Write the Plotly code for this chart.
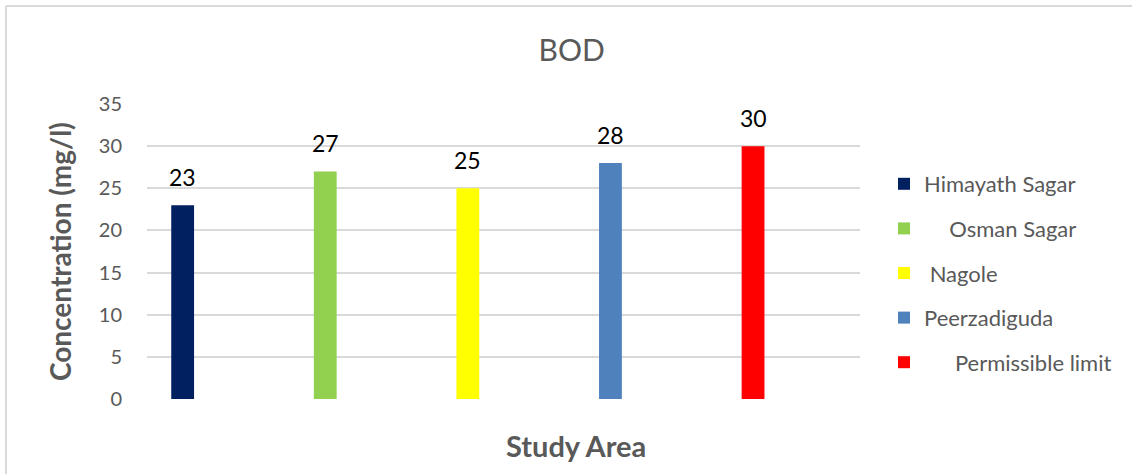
import plotly.graph_objects as go

# BOD concentration at each study area
sites = ["Himayath Sagar", "Osman Sagar", "Nagole", "Peerzadiguda", "Permissible limit"]
legend_names = ["Himayath Sagar",
                "\u00a0\u00a0\u00a0\u00a0\u2009Osman Sagar",
                "\u00a0Nagole",
                "Peerzadiguda",
                "\u00a0\u00a0\u00a0\u00a0\u00a0\u2009Permissible limit"]
bod = [23, 27, 25, 28, 30]
colors = ["#002060", "#92D050", "#FFFF00", "#4F81BD", "#FF0000"]
y_ticks = [0, 5, 10, 15, 20, 25, 30, 35]

FONT = "Lato"
GREY = "#595959"

W, H = 1132, 474
L, R, T, B = 147, 272, 104, 75
pw, ph = W - L - R, H - T - B


def px_x(px):
    return (px - L) / pw


def px_y(py):
    return (H - B - py) / ph


fig = go.Figure()
for i, (site, name, val, col) in enumerate(zip(sites, legend_names, bod, colors)):
    fig.add_trace(go.Bar(
        x=[site], y=[val], name=name, width=0.16,
        marker=dict(color=col, line=dict(width=0)),
        legendgroup=f"g{i}",
    ))
    fig.add_annotation(
        x=site, y=val, text=str(val), showarrow=False,
        xanchor="center", yanchor="bottom", yshift=12,
        font=dict(family=FONT, size=23, color="#000000"),
    )

# axis titles
fig.add_annotation(
    x=px_x(576), y=px_y(445), xref="paper", yref="paper",
    xanchor="center", yanchor="middle",
    text="<b>Study Area</b>", showarrow=False,
    font=dict(family=FONT, size=29, color=GREY),
)
fig.add_annotation(
    x=px_x(60), y=px_y(252), xref="paper", yref="paper",
    xanchor="center", yanchor="middle",
    text="<b>Concentration (mg/l)</b>", showarrow=False, textangle=-90,
    font=dict(family=FONT, size=28, color=GREY),
)

# chart frame (top and left edges)
frame = dict(color="#d9d9d9", width=2)
fig.add_shape(type="line", xref="paper", yref="paper",
              x0=px_x(6), x1=px_x(W), y0=px_y(6), y1=px_y(6), line=frame)
fig.add_shape(type="line", xref="paper", yref="paper",
              x0=px_x(6), x1=px_x(6), y0=px_y(6), y1=px_y(H), line=frame)

fig.update_layout(
    width=W, height=H,
    margin=dict(l=L, r=R, t=T, b=B),
    paper_bgcolor="white", plot_bgcolor="white",
    barmode="overlay",
    showlegend=True,
    title=dict(text="BOD", x=0.505, xanchor="center", y=1 - 50 / H, yanchor="middle",
               font=dict(family=FONT, size=30, color=GREY)),
    legend=dict(
        x=px_x(884), xanchor="left", y=px_y(163), yanchor="top",
        font=dict(family=FONT, size=22, color=GREY),
        tracegroupgap=13, bgcolor="rgba(0,0,0,0)",
    ),
    xaxis=dict(
        type="category", range=[-0.25, 4.75], showticklabels=False,
        showgrid=False, zeroline=False, showline=False, ticks="",
    ),
    yaxis=dict(
        range=[0, 35], tickvals=y_ticks, showgrid=True,
        gridcolor="#d9d9d9", gridwidth=1.5, zeroline=False, showline=False,
        ticks="", ticklabelstandoff=24,
        tickfont=dict(family=FONT, size=20, color=GREY),
    ),
)

fig.write_html("out.html")
